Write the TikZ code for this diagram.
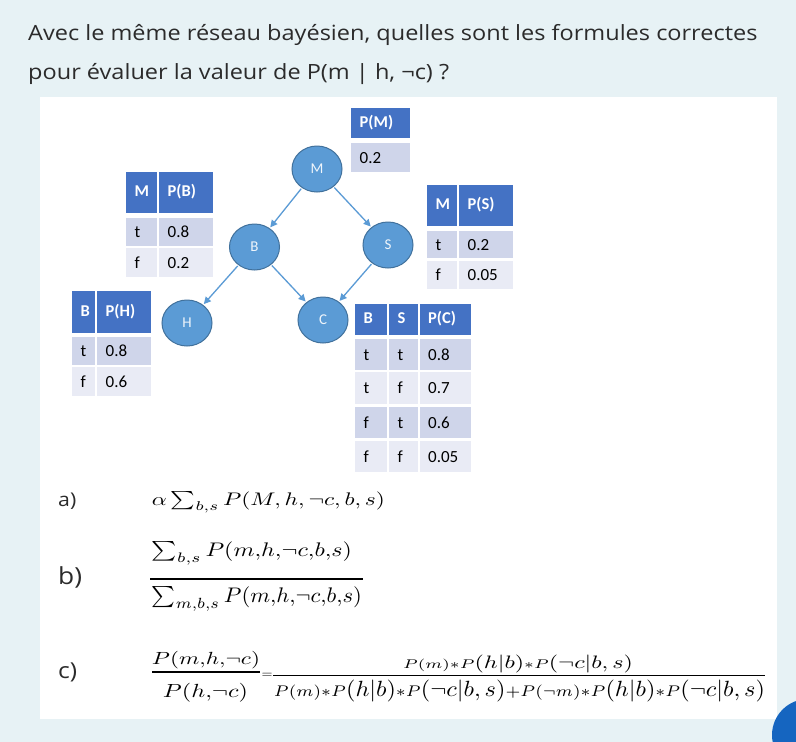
\documentclass[tikz,border=0pt]{standalone}
\usepackage[no-math]{fontspec}
\usepackage{graphicx}
\setmainfont[FakeStretch=1.12]{Open Sans}
\newfontfamily\tabfont{Carlito}
\usetikzlibrary{shapes.geometric,arrows.meta}
\definecolor{bgc}{HTML}{E7F2F5}
\definecolor{hdrblue}{HTML}{4472C4}
\definecolor{rowdark}{HTML}{CFD5EA}
\definecolor{rowlight}{HTML}{E9EBF5}
\definecolor{nodefill}{HTML}{5B9BD5}
\definecolor{nodeedge}{HTML}{41719C}
\definecolor{txtc}{HTML}{2B2B2B}
\definecolor{fabblue}{HTML}{1565C0}
\tikzset{
  bnode/.style={ellipse, draw=nodeedge, line width=1pt, fill=nodefill, text=white!90!nodefill,
    inner sep=0pt, minimum width=50pt, minimum height=46pt, font=\tabfont\fontsize{15}{15}\selectfont},
  arr/.style={draw=nodefill, line width=1.3pt, -{Triangle[length=7pt,width=7pt]}, shorten >=1pt, shorten <=1pt},
  hfill/.style={fill=hdrblue}, dfill/.style={fill=rowdark}, lfill/.style={fill=rowlight},
  htxt/.style={anchor=west, inner sep=0pt, text=white, font=\tabfont\bfseries\fontsize{16.5}{16.5}\selectfont,
    text height=11.5pt, text depth=3pt},
  dtxt/.style={anchor=west, inner sep=0pt, text=black, font=\tabfont\fontsize{17}{17}\selectfont,
    text height=11.5pt, text depth=0pt},
  ltxt/.style={dtxt},
  title/.style={anchor=base west, inner sep=0pt, text=txtc, font=\fontsize{21}{21}\selectfont},
  lab/.style={anchor=base west, inner sep=0pt, text=txtc},
  frm/.style={inner sep=0pt}
}
\newcommand\tcell[7]{\fill[#5fill] (#1,#2) rectangle (#3,#4);
  \node[#5txt] (#7) at ({#1+8.5},{(#2+#4)/2}) {#6};}
\begin{document}
\begin{tikzpicture}[x=1pt,y=-1pt]
\useasboundingbox (0,0) rectangle (796,742);
\fill[bgc] (0,0) rectangle (796,742);
\fill[white] (40,97) rectangle (777,719);
\begin{scope}
  \clip (0,0) rectangle (796,742);
  \fill[fabblue] (808,735) circle (36pt);
\end{scope}
% title
\node[title] (t1) at (28,40) {Avec le même réseau bayésien, quelles sont les formules correctes};
\node[title] (t2) at (28,79) {pour évaluer la valeur de P(m | h, ¬c) ?};
% network
\node[bnode] (M) at (317,169) {M};
\node[bnode] (B) at (254.5,247) {B};
\node[bnode] (S) at (388,245) {S};
\node[bnode] (H) at (187,323) {H};
\node[bnode] (C) at (323,320) {C};
\draw[arr] (M) -- (B);
\draw[arr] (M) -- (S);
\draw[arr] (B) -- (H);
\draw[arr] (B) -- (C);
\draw[arr] (S) -- (C);
% P(M)
\tcell{351}{108}{410}{138}{h}{P(M)}{pm0}
\tcell{351}{143}{410}{172}{d}{0.2}{pm1}
% P(B)
\tcell{126}{172}{157}{213}{h}{M}{pb00}
\tcell{159}{172}{213}{213}{h}{P(B)}{pb01}
\tcell{126}{218}{157}{246}{d}{t}{pb10}
\tcell{159}{218}{213}{246}{d}{0.8}{pb11}
\tcell{126}{248}{157}{277}{l}{f}{pb20}
\tcell{159}{248}{213}{277}{l}{0.2}{pb21}
% P(S)
\tcell{427}{185}{457}{226}{h}{M}{ps00}
\tcell{459}{185}{513}{226}{h}{P(S)}{ps01}
\tcell{427}{231}{457}{258}{d}{t}{ps10}
\tcell{459}{231}{513}{258}{d}{0.2}{ps11}
\tcell{427}{261}{457}{289}{l}{f}{ps20}
\tcell{459}{261}{513}{289}{l}{0.05}{ps21}
% P(H)
\tcell{72}{291}{95}{333}{h}{B}{ph00}
\tcell{97}{291}{151}{333}{h}{P(H)}{ph01}
\tcell{72}{337}{95}{365}{d}{t}{ph10}
\tcell{97}{337}{151}{365}{d}{0.8}{ph11}
\tcell{72}{367}{95}{396}{l}{f}{ph20}
\tcell{97}{367}{151}{396}{l}{0.6}{ph21}
% P(C)
\tcell{355}{304}{387}{335}{h}{B}{pc00}
\tcell{389}{304}{417.5}{335}{h}{S}{pc01}
\tcell{419.5}{304}{471}{335}{h}{P(C)}{pc02}
\tcell{355}{339}{387}{370}{d}{t}{pc10}
\tcell{389}{339}{417.5}{370}{d}{t}{pc11}
\tcell{419.5}{339}{471}{370}{d}{0.8}{pc12}
\tcell{355}{372}{387}{404}{l}{t}{pc20}
\tcell{389}{372}{417.5}{404}{l}{f}{pc21}
\tcell{419.5}{372}{471}{404}{l}{0.7}{pc22}
\tcell{355}{407}{387}{438}{d}{f}{pc30}
\tcell{389}{407}{417.5}{438}{d}{t}{pc31}
\tcell{419.5}{407}{471}{438}{d}{0.6}{pc32}
\tcell{355}{441}{387}{472}{l}{f}{pc40}
\tcell{389}{441}{417.5}{472}{l}{f}{pc41}
\tcell{419.5}{441}{471}{472}{l}{0.05}{pc42}
% labels
\node[lab, font=\fontsize{19}{19}\selectfont] (la) at (58,506) {a)};
\node[lab, font=\fontsize{23.5}{23.5}\selectfont] (lb) at (58,584) {b)};
\node[lab, font=\fontsize{22}{22}\selectfont] (lc) at (58,678) {c)};
% a
\node[frm] (fa) at (268.5,502.5) {\resizebox*{233pt}{21.6pt}{$\alpha\sum_{b,s}P(M,h,\neg c,b,s)$}};
% b
\node[frm] (fbn) at (252,553.3) {\resizebox*{200pt}{23.3pt}{$\sum_{b,s}P(m{,}h{,}\neg c{,}b{,}s)$}};
\draw[line width=1.2pt] (150,579) -- (363,579);
\node[frm] (fbd) at (257,599.2) {\resizebox*{210pt}{25pt}{$\sum_{m,b,s}P(m{,}h{,}\neg c{,}b{,}s)$}};
% c
\node[frm] (fcn) at (206,660.5) {\resizebox*{108pt}{17.6pt}{$P(m{,}h{,}\neg c)$}};
\draw[line width=1.8pt] (152,672.3) -- (260,672.3);
\node[frm] (fcd) at (205.5,692.5) {\resizebox*{85pt}{19pt}{$P(h{,}\neg c)$}};
\node[frm, font=\fontsize{15}{15}\selectfont] (feq) at (267,676) {$=$};
\node[frm] (frn) at (518,664) {\resizebox*{230pt}{18pt}{$\scriptstyle P(m)\ast P\textstyle(h|b)\scriptstyle\ast P\textstyle(\neg c|b,s)$}};
\draw[line width=1pt] (273,675.7) -- (765,675.7);
\node[frm] (frd) at (519.5,691) {\resizebox*{491pt}{22pt}{$\scriptstyle P(m)\ast P\textstyle(h|b)\scriptstyle\ast P\textstyle(\neg c|b,s)\scriptstyle+P(\neg m)\ast P\textstyle(h|b)\scriptstyle\ast P\textstyle(\neg c|b,s)$}};
\end{tikzpicture}
\end{document}
